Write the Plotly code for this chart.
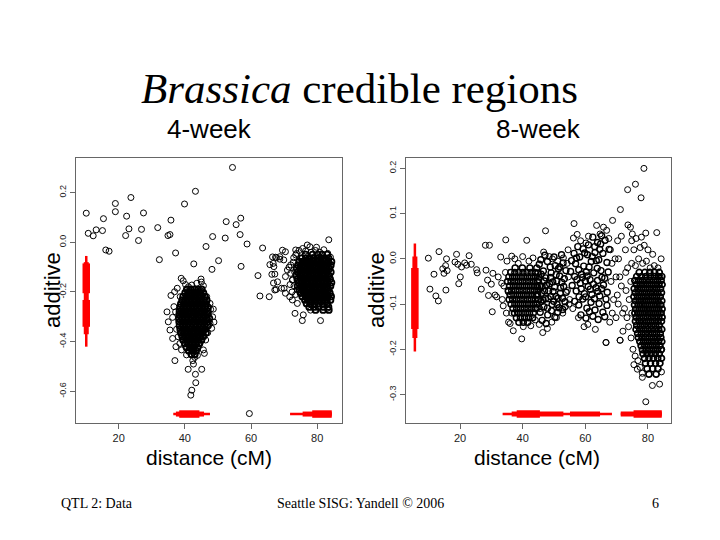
import plotly.graph_objects as go

# ================= 4-week panel: sampled QTL (distance cM, additive effect)

wk4_sparse = [(10.2, 0.117), (10.8, 0.036), (12.3, 0.026), (13.2, 0.05), (15.1, 0.047), (15.4, 0.095),
              (16.1, -0.031), (17.1, -0.036), (19.0, 0.156), (19.0, 0.123), (22.4, 0.105), (23.7, 0.18),
              (22.1, 0.027), (23.1, 0.054), (26.0, 0.007), (26.9, 0.052), (27.5, 0.118), (31.8, 0.059),
              (32.3, -0.07), (34.9, 0.027), (35.5, 0.031), (35.8, 0.089), (37.2, -0.043), (39.9, 0.154),
              (43.2, 0.205), (42.7, -0.087), (46.4, -0.017), (48.4, 0.023), (50.2, -0.074), (48.2, -0.109),
              (52.2, 0.017), (52.5, 0.083), (54.4, 0.301), (55.5, 0.071), (56.9, 0.097), (56.7, 0.031),
              (57.0, -0.097), (58.8, -0.007), (63.5, -0.023), (62.1, -0.134), (62.7, -0.216), (59.5, -0.689),
              (65.5, -0.219), (65.7, -0.09), (66.3, -0.129), (66.8, -0.164), (67.2, -0.192), (66.5, -0.059),
              (67.7, -0.062), (68.7, -0.068), (69.5, -0.032), (69.2, -0.185)]

wk4_qtl1_edge = [(38.9, -0.145), (39.5, -0.155), (45.6, -0.175), (44.9, -0.148), (35.8, -0.214), (34.6, -0.28),
                 (35.0, -0.32), (35.5, -0.353), (36.3, -0.387), (37.0, -0.476), (38.5, -0.407), (41.0, -0.511),
                 (42.4, -0.476), (43.0, -0.463), (43.2, -0.531), (45.1, -0.511), (43.3, -0.565), (42.1, -0.595),
                 (41.8, -0.615), (45.6, -0.433), (45.9, -0.447), (46.9, -0.364), (48.4, -0.3), (48.6, -0.269),
                 (48.8, -0.321), (48.1, -0.346), (47.6, -0.246), (46.6, -0.219), (36.3, -0.302), (36.7, -0.259),
                 (36.9, -0.199), (37.7, -0.185), (38.0, -0.38), (37.3, -0.42), (39.0, -0.433), (40.5, -0.453),
                 (44.3, -0.406), (46.3, -0.393), (47.6, -0.326), (47.1, -0.286), (42.1, -0.172), (43.6, -0.165),
                 (41.1, -0.179), (38.6, -0.219), (42.6, -0.49), (43.8, -0.455), (37.5, -0.35), (37.2, -0.28),
                 (47.8, -0.27), (45.0, -0.16), (40.2, -0.17)]

# dense core, one row of distances per additive level
wk4_qtl1_core_y = [-0.190, -0.204, -0.219, -0.233, -0.248, -0.262, -0.277, -0.291, -0.306, -0.320,
                   -0.335, -0.349, -0.364, -0.378, -0.393, -0.407, -0.422, -0.436, -0.450]
wk4_qtl1_core_x = [[40.6, 41.8, 42.9, 44.0, 45.1],
                   [40.1, 41.2, 42.3, 43.4, 44.6, 45.6],
                   [39.5, 40.6, 41.7, 42.8, 43.9, 45.0, 46.1],
                   [39.2, 40.2, 41.3, 42.4, 43.5, 44.6, 45.7, 46.6],
                   [38.8, 39.8, 40.9, 42.0, 43.1, 44.2, 45.3, 46.4],
                   [38.6, 39.6, 40.6, 41.7, 42.8, 43.9, 45.0, 46.1, 47.0],
                   [38.4, 39.4, 40.4, 41.5, 42.6, 43.7, 44.8, 45.9, 46.9],
                   [38.3, 39.2, 40.2, 41.3, 42.4, 43.5, 44.6, 45.7, 46.8],
                   [38.2, 39.1, 40.1, 41.1, 42.2, 43.3, 44.4, 45.5, 46.6, 47.4],
                   [38.3, 39.3, 40.3, 41.4, 42.5, 43.6, 44.7, 45.8, 46.9],
                   [38.4, 39.4, 40.5, 41.6, 42.7, 43.8, 44.9, 46.0, 47.0],
                   [38.6, 39.6, 40.7, 41.8, 42.9, 44.0, 45.1, 46.2],
                   [38.8, 39.9, 41.0, 42.1, 43.2, 44.3, 45.4, 46.4],
                   [39.2, 40.2, 41.3, 42.4, 43.5, 44.6, 45.6],
                   [39.5, 40.6, 41.7, 42.8, 43.9, 45.0],
                   [40.0, 41.1, 42.2, 43.3, 44.4],
                   [40.5, 41.6, 42.7, 43.8],
                   [41.2, 42.3, 43.4],
                   [42.0, 43.0]]

wk4_qtl2_edge = [(67.4, -0.06), (68.7, -0.058), (69.9, -0.071), (70.4, -0.038), (66.7, -0.085), (66.9, -0.098),
                 (67.2, -0.128), (68.0, -0.159), (67.6, -0.19), (70.0, -0.185), (70.4, -0.138), (71.0, -0.112),
                 (72.0, -0.091), (73.5, -0.031), (73.5, -0.051), (75.0, -0.065), (77.0, -0.011), (77.8, -0.018),
                 (79.8, -0.02), (83.5, 0.01), (72.5, -0.232), (74.0, -0.246), (73.3, -0.286), (75.8, -0.292),
                 (75.5, -0.315), (81.0, -0.315), (78.0, -0.273), (83.0, -0.266), (70.4, -0.205), (71.7, -0.219),
                 (74.0, -0.192), (72.5, -0.152), (72.0, -0.125), (72.8, -0.08), (73.2, -0.12), (72.6, -0.15),
                 (73.0, -0.175), (72.4, -0.2), (73.5, -0.21), (71.5, -0.1), (71.8, -0.17), (72.9, -0.062),
                 (73.8, -0.045), (74.5, -0.033), (75.6, -0.025), (76.5, -0.035), (78.2, -0.04), (79.5, -0.033),
                 (80.8, -0.04), (82.0, -0.03), (83.2, -0.045), (84.0, -0.06)]

wk4_qtl2_core_y = [-0.050, -0.064, -0.078, -0.092, -0.106, -0.120, -0.134, -0.148, -0.162,
                   -0.176, -0.190, -0.204, -0.218, -0.232, -0.246, -0.260, -0.272]
wk4_qtl2_core_x = [[76.5, 78.6, 80.2, 81.5, 83.0],
                   [75.4, 76.6, 77.7, 78.9, 80.0, 81.1, 82.2, 83.4],
                   [74.6, 75.7, 76.8, 77.9, 79.0, 80.1, 81.2, 82.3, 83.4, 84.3],
                   [74.2, 75.3, 76.4, 77.5, 78.6, 79.7, 80.8, 81.9, 83.0, 84.1],
                   [73.8, 74.9, 76.0, 77.1, 78.2, 79.3, 80.4, 81.5, 82.6, 83.7],
                   [74.2, 75.3, 76.4, 77.5, 78.6, 79.7, 80.8, 81.9, 83.0, 84.1],
                   [73.7, 74.8, 75.9, 77.0, 78.1, 79.2, 80.3, 81.4, 82.5, 83.6],
                   [74.0, 75.1, 76.2, 77.3, 78.4, 79.5, 80.6, 81.7, 82.8, 83.9],
                   [74.4, 75.5, 76.6, 77.7, 78.8, 79.9, 81.0, 82.1, 83.2, 84.3],
                   [74.1, 75.2, 76.3, 77.4, 78.5, 79.6, 80.7, 81.8, 82.9, 84.0],
                   [74.6, 75.7, 76.8, 77.9, 79.0, 80.1, 81.2, 82.3, 83.4],
                   [75.0, 76.1, 77.2, 78.3, 79.4, 80.5, 81.6, 82.7, 83.8],
                   [75.5, 76.6, 77.7, 78.8, 79.9, 81.0, 82.1, 83.2, 84.2],
                   [76.3, 77.4, 78.5, 79.6, 80.7, 81.8, 82.9, 84.0],
                   [76.8, 78.0, 79.3, 80.5, 81.7, 83.0],
                   [77.6, 79.0, 80.4, 81.9, 83.4],
                   [79.5, 81.8, 83.5]]

# credible regions 4-week (outer, middle, inner)
wk4_add_outer = [(-0.42, -0.055)]
wk4_add_middle = [(-0.37, -0.08)]
wk4_add_inner = [(-0.34, -0.232), (-0.205, -0.085)]
wk4_dist_outer = [(36.5, 47.6), (71.8, 84.4)]
wk4_dist_middle = [(37.3, 45.8), (75.6, 84.4)]
wk4_dist_inner = [(38.3, 44.4), (78.5, 84.4)]
wk4_dist_min = 10.2
wk4_add_min = -0.691

# ================= 8-week panel

wk8_sparse = [(9.9, 0.0015), (10.4, -0.067), (11.7, -0.034), (12.3, -0.082), (13.1, -0.093), (13.3, 0.016),
              (14.5, -0.022), (14.9, -0.032), (15.4, -0.015), (15.5, -0.069), (15.7, 0.0), (15.9, -0.026),
              (18.4, -0.007), (18.9, 0.01), (19.3, -0.012), (19.6, -0.055), (20.1, -0.04), (20.5, -0.018),
              (21.5, -0.009), (22.1, -0.014), (22.9, 0.007), (23.6, -0.012), (25.3, -0.024), (25.5, -0.031),
              (26.8, -0.067), (28.1, 0.03), (29.4, 0.03), (28.3, -0.025), (28.8, -0.047), (29.1, -0.081),
              (30.0, -0.056), (30.3, -0.117), (30.5, -0.032), (31.2, -0.08), (31.7, -0.084), (32.2, -0.04),
              (33.0, 0.004), (33.3, -0.054), (33.8, -0.104), (34.6, 0.042), (35.4, -0.073), (36.0, -0.143)]

wk8_a_edge = [(34.0, -0.06), (33.5, -0.09), (34.5, -0.03), (35.0, -0.005), (36.5, 0.006), (37.5, 0.0),
              (38.6, -0.01), (40.0, 0.005), (41.3, 0.041), (42.0, -0.005), (43.3, 0.002), (34.8, -0.12),
              (35.5, -0.14), (37.0, -0.159), (39.7, -0.177), (40.2, -0.15), (42.6, -0.148), (44.0, -0.135),
              (45.5, -0.11), (36.5, -0.12)]
wk8_a_core_y = [-0.020, -0.030, -0.040, -0.050, -0.060, -0.070, -0.080, -0.090, -0.100, -0.110, -0.120, -0.130, -0.140]
wk8_a_core_x = [[37.6, 39.9, 42.3, 44.5],
                [36.2, 37.5, 38.8, 40.1, 41.4, 42.7, 44.0],
                [35.6, 36.8, 38.0, 39.2, 40.4, 41.6, 42.8, 44.0, 45.2],
                [35.2, 36.3, 37.5, 38.7, 39.9, 41.1, 42.3, 43.5, 44.7],
                [35.8, 37.0, 38.2, 39.4, 40.6, 41.8, 43.0, 44.2, 45.4],
                [35.4, 36.5, 37.7, 38.9, 40.1, 41.3, 42.5, 43.7, 44.9],
                [36.0, 37.2, 38.4, 39.6, 40.8, 42.0, 43.2, 44.4],
                [35.7, 36.8, 38.0, 39.2, 40.4, 41.6, 42.8, 44.0, 45.1],
                [36.3, 37.5, 38.7, 39.9, 41.1, 42.3, 43.5, 44.6],
                [36.9, 38.1, 39.3, 40.5, 41.7, 42.9, 44.1],
                [37.4, 38.6, 39.8, 41.0, 42.2, 43.4],
                [38.0, 39.3, 40.6, 41.9, 43.2],
                [38.8, 40.2, 41.6]]

wk8_b_edge = [(46.7, 0.015), (47.3, 0.062), (48.5, 0.005), (49.5, 0.0), (51.2, -0.005), (53.0, 0.002),
              (54.2, -0.01), (54.6, -0.04), (54.3, -0.07), (54.8, -0.1), (53.6, -0.106), (52.8, -0.12),
              (46.4, -0.163), (47.9, -0.154), (45.3, -0.145), (49.3, -0.14), (50.8, -0.13)]
wk8_b_core = [(45.3, -0.012), (46.6, -0.027), (47.9, -0.006), (49.1, -0.031), (50.4, -0.015), (51.8, -0.038),
              (52.9, -0.009), (53.8, -0.026), (45.1, -0.046), (46.2, -0.061), (47.4, -0.042), (48.6, -0.055),
              (49.7, -0.072), (50.9, -0.049), (52.1, -0.064), (53.3, -0.044), (44.8, -0.079), (45.9, -0.094),
              (47.0, -0.071), (48.2, -0.088), (49.4, -0.101), (50.6, -0.083), (51.6, -0.108), (52.7, -0.087),
              (53.9, -0.074), (45.6, -0.118), (46.8, -0.106), (48.0, -0.124), (49.2, -0.115), (50.3, -0.129),
              (51.2, -0.118), (46.2, -0.136), (47.5, -0.143), (45.8, -0.002), (47.1, 0.008), (48.8, -0.018),
              (50.0, 0.004), (51.4, -0.022), (52.4, 0.009), (44.9, -0.031), (46.0, -0.076), (47.6, -0.058),
              (48.9, -0.041), (50.2, -0.062), (51.3, -0.087), (52.5, -0.052), (53.5, -0.095), (46.5, -0.091),
              (47.9, -0.109), (49.9, -0.094), (51.0, -0.101), (52.8, -0.112), (44.6, -0.108), (46.9, -0.049),
              (49.6, -0.051), (45.9, -0.034), (48.3, -0.071), (50.7, -0.035), (52.0, -0.076), (47.3, -0.088),
              (49.0, -0.083), (51.9, -0.018), (44.7, -0.062), (53.1, -0.061)]

wk8_c_edge = [(56.4, 0.078), (57.4, 0.054), (56.2, 0.046), (58.5, 0.04), (60.2, 0.035), (61.0, 0.05),
              (63.6, 0.074), (64.7, 0.055), (66.8, 0.063), (65.8, 0.07), (67.5, 0.045), (68.7, 0.085),
              (68.0, 0.02), (68.5, -0.01), (68.2, -0.05), (69.0, -0.09), (68.6, -0.12), (67.8, -0.14),
              (59.6, -0.15), (63.2, -0.156), (66.6, -0.185), (60.8, -0.145), (57.8, -0.13), (56.0, -0.11),
              (54.5, 0.02), (55.0, -0.09), (53.6, -0.106), (69.5, 0.0), (69.8, -0.04), (70.6, 0.0)]
wk8_c_core = [(62.4, 0.048), (63.9, 0.036), (65.2, 0.051), (66.3, 0.041), (64.6, 0.021), (61.0, 0.031),
              (59.3, 0.022), (57.6, 0.027), (56.4, 0.012), (55.6, -0.004), (56.9, -0.011), (58.2, 0.004),
              (59.5, -0.016), (60.7, 0.009), (61.9, -0.006), (63.1, 0.014), (64.3, -0.002), (65.6, 0.012),
              (66.9, -0.008), (67.6, 0.021), (55.3, -0.028), (56.6, -0.039), (57.9, -0.024), (59.1, -0.041),
              (60.3, -0.029), (61.5, -0.046), (62.7, -0.031), (63.9, -0.048), (65.0, -0.026), (66.2, -0.043),
              (67.3, -0.029), (55.8, -0.059), (57.1, -0.071), (58.4, -0.054), (59.7, -0.077), (60.9, -0.061),
              (62.1, -0.079), (63.4, -0.064), (64.6, -0.082), (65.8, -0.058), (67.0, -0.074), (56.6, -0.094),
              (57.9, -0.102), (59.2, -0.089), (60.5, -0.109), (61.8, -0.096), (63.1, -0.113), (64.4, -0.099),
              (65.6, -0.118), (66.9, -0.103), (58.6, -0.124), (60.2, -0.131), (62.4, -0.127), (64.1, -0.134),
              (66.2, -0.128), (57.2, 0.002), (58.8, -0.034), (60.0, -0.049), (61.2, -0.018), (62.6, -0.056),
              (63.8, -0.021), (65.2, -0.066), (66.6, -0.089), (64.9, 0.033), (63.0, 0.027), (60.1, -0.084),
              (58.0, -0.084), (61.3, -0.117), (59.8, 0.013), (62.2, 0.005), (65.3, -0.041), (61.6, -0.067),
              (63.5, -0.004), (60.6, -0.038), (58.7, -0.066), (64.0, -0.072), (57.3, -0.046), (62.9, -0.088)]

wk8_e_edge = [(74.5, -0.05), (74.0, -0.09), (74.8, -0.12), (73.8, -0.15), (74.6, -0.175), (75.2, -0.2),
              (75.9, -0.215), (76.8, -0.225), (77.5, -0.24), (78.2, -0.253), (76.6, -0.244), (75.5, -0.234),
              (78.2, -0.262), (81.4, -0.28), (83.7, -0.277), (79.3, -0.316), (84.3, -0.25), (84.4, -0.2),
              (73.0, -0.07), (72.5, -0.11), (73.3, -0.13), (72.0, -0.16), (71.1, -0.18), (71.9, -0.12),
              (72.9, -0.03), (73.5, -0.02), (74.8, -0.01), (76.0, -0.015), (77.0, 0.0), (78.3, -0.01),
              (79.5, -0.005), (80.7, -0.02), (82.0, -0.015), (83.2, -0.02), (84.2, 0.0), (81.5, 0.01),
              (80.0, 0.02), (78.8, 0.03), (77.5, 0.025), (76.2, 0.045), (75.0, 0.055), (74.4, 0.07),
              (77.9, 0.048), (79.3, 0.057), (82.8, 0.058), (73.5, 0.153), (76.0, 0.165), (77.8, 0.135),
              (78.7, 0.2), (71.2, 0.109), (73.6, 0.075), (74.8, 0.04), (72.8, 0.02), (71.5, 0.05),
              (70.3, 0.04), (71.0, -0.04), (70.2, -0.08), (69.8, -0.13), (70.5, -0.1), (75.5, 0.02),
              (83.8, -0.04), (71.5, -0.06), (66.6, -0.185), (71.1, -0.18)]
wk8_e_core_y = [-0.030, -0.039, -0.048, -0.057, -0.066, -0.075, -0.084, -0.093, -0.102, -0.111, -0.120,
                -0.129, -0.138, -0.147, -0.156, -0.165, -0.174, -0.183, -0.192, -0.201, -0.210, -0.220,
                -0.231, -0.243, -0.255]
wk8_e_core_x = [[77.2, 79.0, 80.6, 82.1, 83.6],
                [76.4, 77.9, 79.3, 80.7, 82.0, 83.3, 84.4],
                [75.8, 77.0, 78.2, 79.4, 80.6, 81.8, 83.0, 84.2],
                [76.3, 77.5, 78.7, 79.9, 81.1, 82.3, 83.5, 84.5],
                [75.6, 76.8, 78.0, 79.2, 80.4, 81.6, 82.8, 84.0],
                [75.9, 77.1, 78.3, 79.5, 80.7, 81.9, 83.1, 84.3],
                [75.5, 76.7, 77.9, 79.1, 80.3, 81.5, 82.7, 83.9],
                [76.0, 77.2, 78.4, 79.6, 80.8, 82.0, 83.2, 84.4],
                [75.7, 76.9, 78.1, 79.3, 80.5, 81.7, 82.9, 84.1],
                [76.1, 77.3, 78.5, 79.7, 80.9, 82.1, 83.3, 84.5],
                [75.8, 77.0, 78.2, 79.4, 80.6, 81.8, 83.0, 84.2],
                [76.2, 77.4, 78.6, 79.8, 81.0, 82.2, 83.4, 84.5],
                [76.0, 77.2, 78.4, 79.6, 80.8, 82.0, 83.2, 84.3],
                [76.4, 77.6, 78.8, 80.0, 81.2, 82.4, 83.6],
                [76.2, 77.4, 78.6, 79.8, 81.0, 82.2, 83.4, 84.4],
                [76.7, 77.9, 79.1, 80.3, 81.5, 82.7, 83.9],
                [76.9, 78.1, 79.3, 80.5, 81.7, 82.9, 84.1],
                [77.4, 78.6, 79.8, 81.0, 82.2, 83.4, 84.4],
                [77.8, 79.0, 80.2, 81.4, 82.6, 83.8],
                [78.2, 79.4, 80.6, 81.8, 83.0, 84.2],
                [78.4, 79.7, 81.0, 82.3, 83.6],
                [78.9, 80.3, 81.7, 83.1, 84.3],
                [79.2, 80.8, 82.4, 83.8],
                [79.7, 81.5, 83.2],
                [80.3, 82.6]]

wk8_add_outer = [(-0.205, 0.034)]
wk8_add_middle = [(-0.175, 0.005)]
wk8_add_inner = [(-0.155, -0.02)]
wk8_dist_outer = [(33.6, 68.5), (71.3, 84.4)]
wk8_dist_middle = [(36.5, 53.0), (55.1, 64.7), (71.3, 84.4)]
wk8_dist_inner = [(38.1, 45.5), (75.4, 84.4)]
wk8_dist_min = 5.6
wk8_add_min = -0.343


def from_rows(rows_y, rows_x):
    xs, ys = [], []
    for y, row in zip(rows_y, rows_x):
        for x in row:
            xs.append(x)
            ys.append(y)
    return xs, ys


def from_pairs(pairs):
    return [p[0] for p in pairs], [p[1] for p in pairs]


fig = go.Figure()


def add_points(xs, ys, xa, ya, lw=1.0):
    fig.add_trace(go.Scatter(x=xs, y=ys, mode='markers',
                             marker=dict(symbol='circle-open', size=6, color='black',
                                         line=dict(width=lw, color='black')),
                             xaxis=xa, yaxis=ya, showlegend=False, hoverinfo='skip'))


def add_bars(intervals, width, pos, vertical, xa, ya):
    for lo, hi in intervals:
        if vertical:
            xs, ys = [pos, pos], [lo, hi]
        else:
            xs, ys = [lo, hi], [pos, pos]
        fig.add_trace(go.Scatter(x=xs, y=ys, mode='lines', line=dict(color='#ff0000', width=width),
                                 xaxis=xa, yaxis=ya, showlegend=False, hoverinfo='skip'))


# 4-week points
for grp in [wk4_sparse, wk4_qtl1_edge, wk4_qtl2_edge]:
    add_points(*from_pairs(grp), 'x', 'y')
add_points(*from_rows(wk4_qtl1_core_y, wk4_qtl1_core_x), 'x', 'y', lw=1.8)
add_points(*from_rows(wk4_qtl2_core_y, wk4_qtl2_core_x), 'x', 'y', lw=1.8)

# 8-week points
for grp in [wk8_sparse, wk8_a_edge, wk8_b_edge, wk8_c_edge, wk8_e_edge]:
    add_points(*from_pairs(grp), 'x2', 'y2')
add_points(*from_pairs(wk8_b_core), 'x2', 'y2', lw=1.4)
add_points(*from_pairs(wk8_c_core), 'x2', 'y2', lw=1.4)
add_points(*from_rows(wk8_a_core_y, wk8_a_core_x), 'x2', 'y2', lw=1.5)
add_points(*from_rows(wk8_e_core_y, wk8_e_core_x), 'x2', 'y2', lw=1.7)

# red credible-region bars
widths = [2.5, 5, 7.5]
for w, iv in zip(widths, [wk4_add_outer, wk4_add_middle, wk4_add_inner]):
    add_bars(iv, w, wk4_dist_min, True, 'x', 'y')
for w, iv in zip(widths, [wk4_dist_outer, wk4_dist_middle, wk4_dist_inner]):
    add_bars(iv, w, wk4_add_min, False, 'x', 'y')
for w, iv in zip(widths, [wk8_add_outer, wk8_add_middle, wk8_add_inner]):
    add_bars(iv, w, wk8_dist_min, True, 'x2', 'y2')
for w, iv in zip(widths, [wk8_dist_outer, wk8_dist_middle, wk8_dist_inner]):
    add_bars(iv, w, wk8_add_min, False, 'x2', 'y2')

# page offset: the html body has an 8px margin, so the figure is 8px smaller
OFF = 8
W, H = 720 - OFF, 540 - OFF


def fx(p):
    return (p - OFF) / W


def fy(p):
    return 1 - (p - OFF) / H


ax_common = dict(showgrid=False, zeroline=False, showline=True, mirror=True, linecolor='#666666',
                 linewidth=1, ticks='outside', ticklen=5, tickcolor='#666666', tickwidth=1)

fig.update_layout(
    width=W, height=H,
    margin=dict(l=0, r=0, t=0, b=0),
    paper_bgcolor='white', plot_bgcolor='white',
    xaxis=dict(domain=[fx(76), fx(342)], range=[7.1, 87.5], tickvals=[20, 40, 60, 80],
               tickfont=dict(family='Liberation Sans', size=11, color='#222'), anchor='y', **ax_common),
    yaxis=dict(domain=[fy(423), fy(158)], range=[-0.727, 0.339],
               tickvals=[-0.6, -0.4, -0.2, 0.0, 0.2], ticktext=['-0.6', '-0.4', '-0.2', '0.0', '0.2'],
               tickangle=-90, tickfont=dict(family='Liberation Sans', size=9, color='#222'),
               anchor='x', **ax_common),
    xaxis2=dict(domain=[fx(405.7), fx(670.7)], range=[2.67, 87.25], tickvals=[20, 40, 60, 80],
                tickfont=dict(family='Liberation Sans', size=11, color='#222'), anchor='y2', **ax_common),
    yaxis2=dict(domain=[fy(423), fy(158)], range=[-0.363, 0.223],
                tickvals=[-0.3, -0.2, -0.1, 0.0, 0.1, 0.2],
                ticktext=['-0.3', '-0.2', '-0.1', '0.0', '0.1', '0.2'],
                tickangle=-90, tickfont=dict(family='Liberation Sans', size=9, color='#222'),
                anchor='x2', **ax_common),
)


def label(x, y, text, size, family='Liberation Sans', angle=0):
    fig.add_annotation(x=fx(x), y=fy(y), xref='paper', yref='paper', text=text, showarrow=False,
                       xanchor='center', yanchor='middle', textangle=angle,
                       font=dict(family=family, size=size, color='black'))


label(359, 88, '<i>Brassica</i> credible regions', 43, family='Liberation Serif')
label(209, 129, '4-week', 26)
label(538, 129, '8-week', 26)
label(52, 290, 'additive', 22, angle=-90)
label(376, 290, 'additive', 22, angle=-90)
label(209, 457, 'distance (cM)', 21)
label(537, 457, 'distance (cM)', 21)
label(97, 503, 'QTL 2: Data', 14, family='Liberation Serif')
label(360, 503, 'Seattle SISG: Yandell © 2006', 14, family='Liberation Serif')
label(655, 503, '6', 14, family='Liberation Serif')

fig.write_html("out.html")
